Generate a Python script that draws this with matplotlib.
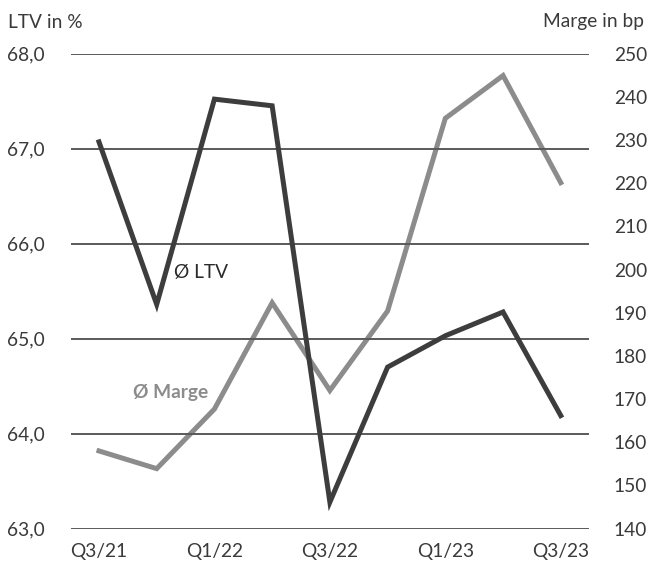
import matplotlib
matplotlib.use("Agg")
import matplotlib.pyplot as plt

quarters = ["Q3/21", "Q4/21", "Q1/22", "Q2/22", "Q3/22", "Q4/22", "Q1/23", "Q2/23", "Q3/23"]
ltv = [67.07, 65.36, 67.52, 67.45, 63.28, 64.70, 65.03, 65.28, 64.19]
marge = [158.0, 153.9, 167.7, 192.3, 172.0, 190.4, 235.0, 244.9, 220.1]
left_ticks = [63.0, 64.0, 65.0, 66.0, 67.0, 68.0]
right_ticks = [140, 150, 160, 170, 180, 190, 200, 210, 220, 230, 240, 250]

plt.rcParams['font.family'] = ['Lato', 'DejaVu Sans']
TXT = '#3a3a3a'
DARK = '#3d3d3d'
GREY = '#8c8c8c'
FS = 13.8

fig = plt.figure(figsize=(6.47, 5.64), dpi=100)
ax = fig.add_axes([0.1097, 0.0626, 0.8003, 0.8425])
ax2 = ax.twinx()

x = list(range(len(quarters)))
ax.set_xlim(-0.485, 8.485)
ax.set_ylim(63.0, 68.0)
ax2.set_ylim(140, 250)

for v in left_ticks:
    ax.axhline(v, color='#5a5a5a', lw=1.4, zorder=1)

ax2.plot(x, marge, color=GREY, lw=3.6, solid_joinstyle='miter', zorder=3)
ax.plot(x, ltv, color=DARK, lw=3.6, solid_joinstyle='miter', zorder=4)
ax.set_zorder(ax2.get_zorder() + 1)
ax.patch.set_visible(False)

ax.set_yticks(left_ticks)
ax.set_yticklabels([f"{v:.1f}".replace('.', ',') for v in left_ticks])
ax2.set_yticks(right_ticks)
ax2.set_yticklabels([str(v) for v in right_ticks])
ax.set_xticks(x[::2])
ax.set_xticklabels(quarters[::2])

for a in (ax, ax2):
    for s in a.spines.values():
        s.set_visible(False)
ax.tick_params(axis='y', length=0, pad=19, labelsize=FS, labelcolor=TXT)
ax.tick_params(axis='x', length=0, pad=10, labelsize=FS, labelcolor=TXT)
ax2.tick_params(axis='y', length=0, pad=18, labelsize=FS, labelcolor=TXT)

fig.text(8/647, 1-22/564, "LTV in %", ha='left', va='center', fontsize=FS, color=TXT)
fig.text(644/647, 1-22/564, "Marge in bp", ha='right', va='center', fontsize=FS, color=TXT)

ax.text(1.3, 65.70, "Ø LTV", ha='left', va='center', fontsize=FS, color='#2a2a2a', zorder=5)
ax.text(0.59, 64.43, "Ø Marge", ha='left', va='center', fontsize=FS, color=GREY, fontweight='bold', zorder=5)

fig.savefig("out.png", dpi=100)
